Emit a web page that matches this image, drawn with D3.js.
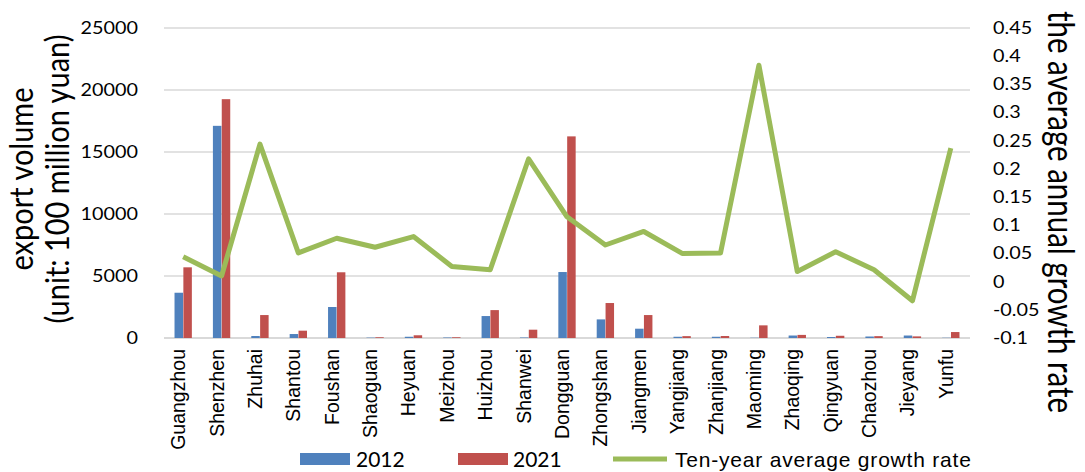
<!DOCTYPE html>
<html>
<head>
<meta charset="utf-8">
<script src="https://cdn.jsdelivr.net/npm/d3@7"></script>
<style>
  body { margin: 0; background: #fff; }
  svg { display: block; }
</style>
</head>
<body>
<svg id="chart" width="1085" height="472"></svg>
<script>
const cities = ['Guangzhou', 'Shenzhen', 'Zhuhai', 'Shantou', 'Foushan', 'Shaoguan', 'Heyuan', 'Meizhou',
  'Huizhou', 'Shanwei', 'Dongguan', 'Zhongshan', 'Jiangmen', 'Yangjiang', 'Zhanjiang', 'Maoming',
  'Zhaoqing', 'Qingyuan', 'Chaozhou', 'Jieyang', 'Yunfu'];
const export2012 = [3650, 17110, 160, 320, 2500, 30, 100, 40, 1770, 40, 5320, 1500, 750, 100, 100, 20,
  200, 80, 120, 200, 20];
const export2021 = [5700, 19260, 1850, 590, 5300, 60, 220, 60, 2250, 670, 16260, 2820, 1850, 150, 160, 1020,
  250, 180, 150, 130, 480];
const growthRate = [0.044, 0.010, 0.244, 0.051, 0.077, 0.061, 0.080, 0.027, 0.021, 0.218, 0.115, 0.065,
  0.089, 0.050, 0.051, 0.384, 0.018, 0.053, 0.021, -0.034, 0.237];
const leftTicks = [0, 5000, 10000, 15000, 20000, 25000];
const rightTicks = [-0.1, -0.05, 0, 0.05, 0.1, 0.15, 0.2, 0.25, 0.3, 0.35, 0.4, 0.45];
const seriesNames = ['2012', '2021'];
const lineName = 'Ten-year average growth rate';

const colors = { '2012': '#4F81BD', '2021': '#C0504D', line: '#9BBB59', grid: '#D9D9D9' };
const plot = { left: 164, right: 970, top: 28, bottom: 338 };
const tickFont = 'Lato, "Open Sans", sans-serif';
const labelFont = '"Liberation Sans", Arial, sans-serif';

const svg = d3.select('#chart');

const x = d3.scaleBand().domain(cities).range([plot.left, plot.right]).paddingInner(0.53).paddingOuter(0.265);
const x1 = d3.scaleBand().domain(seriesNames).range([0, x.bandwidth()]).padding(0.04);
const yLeft = d3.scaleLinear().domain([0, 25000]).range([plot.bottom, plot.top]);
const yRight = d3.scaleLinear().domain([-0.1, 0.45]).range([plot.bottom, plot.top]);

// gridlines
svg.append('g')
  .selectAll('line')
  .data(leftTicks)
  .join('line')
  .attr('x1', plot.left)
  .attr('x2', plot.right)
  .attr('y1', d => yLeft(d))
  .attr('y2', d => yLeft(d))
  .attr('stroke', colors.grid)
  .attr('stroke-width', d => d === 0 ? 2 : 1.5);

// left axis labels (the source picture is a bit stretched sideways)
svg.append('g')
  .selectAll('text')
  .data(leftTicks)
  .join('text')
  .attr('transform', d => `translate(138,${yLeft(d)}) scale(1.2,1)`)
  .attr('dy', '0.36em')
  .attr('text-anchor', 'end')
  .attr('font-family', tickFont)
  .attr('font-size', 16.5)
  .attr('fill', '#000')
  .text(d => d);

// right axis labels
svg.append('g')
  .selectAll('text')
  .data(rightTicks)
  .join('text')
  .attr('transform', d => `translate(993,${yRight(d)}) scale(1.2,1)`)
  .attr('dy', '0.36em')
  .attr('text-anchor', 'start')
  .attr('font-family', tickFont)
  .attr('font-size', 16.5)
  .attr('fill', '#000')
  .text(d => String(+d.toFixed(2)));

// bars
const groups = svg.append('g')
  .selectAll('g')
  .data(cities.map((c, i) => ({ city: c, values: [export2012[i], export2021[i]] })))
  .join('g')
  .attr('transform', d => `translate(${x(d.city)},0)`);

groups.selectAll('rect')
  .data(d => d.values.map((v, i) => ({ key: seriesNames[i], value: v })))
  .join('rect')
  .attr('x', d => x1(d.key))
  .attr('width', x1.bandwidth())
  .attr('y', d => yLeft(d.value))
  .attr('height', d => yLeft(0) - yLeft(d.value))
  .attr('fill', d => colors[d.key]);

// growth line
const line = d3.line()
  .x((d, i) => x(cities[i]) + x.bandwidth() / 2)
  .y(d => yRight(d));

svg.append('path')
  .datum(growthRate)
  .attr('d', line)
  .attr('fill', 'none')
  .attr('stroke', colors.line)
  .attr('stroke-width', 5)
  .attr('stroke-linejoin', 'round');

// category labels
svg.append('g')
  .selectAll('text')
  .data(cities)
  .join('text')
  .attr('transform', d => `translate(${x(d) + x.bandwidth() / 2 + 2},349) rotate(-90)`)
  .attr('text-anchor', 'end')
  .attr('font-family', labelFont)
  .attr('font-size', 19.5)
  .attr('fill', '#000')
  .text(d => d);

// axis titles
const leftTitle = svg.append('text')
  .attr('transform', 'translate(0,179) scale(1.1,1) rotate(-90)')
  .attr('text-anchor', 'middle')
  .attr('font-family', tickFont)
  .attr('font-size', 29)
  .attr('fill', '#000');
leftTitle.append('tspan').attr('x', 0).attr('y', 30).text('export volume');
leftTitle.append('tspan').attr('x', 0).attr('y', 63).text('(unit: 100 million yuan)');

svg.append('text')
  .attr('transform', 'translate(1048,212) scale(1.25,1) rotate(90)')
  .attr('text-anchor', 'middle')
  .attr('font-family', tickFont)
  .attr('font-size', 29.5)
  .attr('fill', '#000')
  .text('the average annual growth rate');

// legend
const legend = svg.append('g');
legend.append('rect').attr('x', 300).attr('y', 453).attr('width', 50).attr('height', 12).attr('fill', colors['2012']);
legend.append('text').attr('x', 356).attr('y', 467).attr('font-family', tickFont).attr('font-size', 21).text(seriesNames[0]);
legend.append('rect').attr('x', 458).attr('y', 453).attr('width', 50).attr('height', 12).attr('fill', colors['2021']);
legend.append('text').attr('x', 513).attr('y', 467).attr('font-family', tickFont).attr('font-size', 21).text(seriesNames[1]);
legend.append('line').attr('x1', 613).attr('x2', 667).attr('y1', 459).attr('y2', 459)
  .attr('stroke', colors.line).attr('stroke-width', 5);
legend.append('text').attr('x', 675).attr('y', 467).attr('font-family', labelFont).attr('font-size', 21)
  .attr('letter-spacing', 0.8).text(lineName);
</script>
</body>
</html>
